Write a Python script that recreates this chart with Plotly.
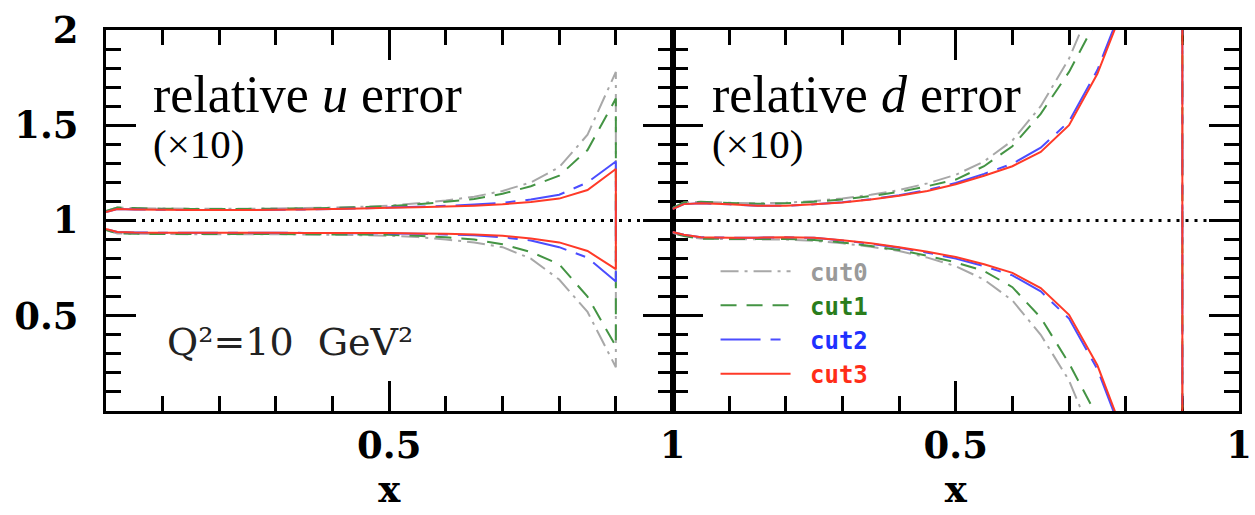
import plotly.graph_objects as go

# x grid shared by every error band (both panels)
X = [0.0, 0.02, 0.05, 0.10, 0.15, 0.20, 0.25, 0.30, 0.35, 0.40,
     0.45, 0.50, 0.55, 0.60, 0.65, 0.70, 0.75, 0.80, 0.85, 0.90]

# relative u error (x10): upper / lower edges of each band
u_hi_cut0 = [1.050, 1.068, 1.065, 1.063, 1.062, 1.062, 1.062, 1.063, 1.065, 1.068,
             1.072, 1.078, 1.090, 1.105, 1.125, 1.155, 1.200, 1.280, 1.450, 1.780]
u_lo_cut0 = [0.950, 0.932, 0.930, 0.929, 0.928, 0.928, 0.928, 0.928, 0.927, 0.925,
             0.923, 0.920, 0.913, 0.900, 0.885, 0.860, 0.800, 0.690, 0.520, 0.230]
u_hi_cut1 = [1.050, 1.068, 1.065, 1.062, 1.061, 1.061, 1.061, 1.062, 1.064, 1.066,
             1.070, 1.075, 1.085, 1.098, 1.113, 1.140, 1.180, 1.235, 1.370, 1.640]
u_lo_cut1 = [0.950, 0.932, 0.930, 0.929, 0.929, 0.929, 0.929, 0.929, 0.928, 0.927,
             0.926, 0.925, 0.920, 0.912, 0.900, 0.875, 0.835, 0.770, 0.600, 0.340]
u_hi_cut2 = [1.045, 1.060, 1.058, 1.056, 1.055, 1.055, 1.055, 1.056, 1.058, 1.061,
             1.064, 1.068, 1.072, 1.077, 1.084, 1.093, 1.110, 1.135, 1.200, 1.310]
u_lo_cut2 = [0.955, 0.940, 0.937, 0.936, 0.936, 0.936, 0.936, 0.936, 0.935, 0.934,
             0.933, 0.932, 0.930, 0.927, 0.922, 0.912, 0.895, 0.860, 0.805, 0.680]
u_hi_cut3 = [1.045, 1.060, 1.058, 1.056, 1.055, 1.055, 1.055, 1.056, 1.058, 1.060,
             1.063, 1.067, 1.070, 1.074, 1.078, 1.085, 1.097, 1.115, 1.160, 1.270]
u_lo_cut3 = [0.955, 0.940, 0.937, 0.936, 0.936, 0.936, 0.936, 0.936, 0.935, 0.935,
             0.934, 0.934, 0.932, 0.930, 0.927, 0.920, 0.906, 0.885, 0.840, 0.745]

# relative d error (x10): upper / lower edges of each band
d_hi_cut0 = [1.065, 1.095, 1.098, 1.093, 1.090, 1.093, 1.102, 1.116, 1.135, 1.160,
             1.195, 1.240, 1.310, 1.420, 1.600, 1.850, 2.200, 2.700, 3.500, 4.800]
d_lo_cut0 = [0.935, 0.918, 0.905, 0.902, 0.901, 0.900, 0.894, 0.880, 0.862, 0.840,
             0.805, 0.760, 0.690, 0.580, 0.400, 0.160, -0.200, -0.700, -1.500, -2.800]
d_hi_cut1 = [1.065, 1.095, 1.098, 1.092, 1.088, 1.090, 1.098, 1.110, 1.128, 1.150,
             1.180, 1.215, 1.285, 1.390, 1.560, 1.780, 2.060, 2.500, 3.300, 4.500]
d_lo_cut1 = [0.935, 0.918, 0.905, 0.903, 0.903, 0.903, 0.898, 0.885, 0.866, 0.845,
             0.815, 0.780, 0.735, 0.650, 0.490, 0.250, -0.030, -0.500, -1.300, -2.500]
d_hi_cut2 = [1.060, 1.086, 1.090, 1.085, 1.078, 1.078, 1.085, 1.096, 1.112, 1.133,
             1.160, 1.197, 1.245, 1.298, 1.382, 1.520, 1.790, 2.170, 2.920, 4.020]
d_lo_cut2 = [0.940, 0.925, 0.912, 0.910, 0.910, 0.912, 0.909, 0.895, 0.878, 0.857,
             0.831, 0.800, 0.760, 0.712, 0.628, 0.485, 0.220, -0.170, -0.920, -2.020]
d_hi_cut3 = [1.060, 1.086, 1.090, 1.085, 1.078, 1.078, 1.085, 1.095, 1.110, 1.130,
             1.155, 1.190, 1.235, 1.285, 1.360, 1.500, 1.770, 2.150, 2.900, 4.000]
d_lo_cut3 = [0.940, 0.925, 0.912, 0.910, 0.910, 0.912, 0.910, 0.896, 0.880, 0.860,
             0.836, 0.808, 0.770, 0.725, 0.645, 0.505, 0.240, -0.150, -0.900, -2.000]

CUTS = ["cut0", "cut1", "cut2", "cut3"]
U_BANDS = [(u_hi_cut0, u_lo_cut0), (u_hi_cut1, u_lo_cut1),
           (u_hi_cut2, u_lo_cut2), (u_hi_cut3, u_lo_cut3)]
D_BANDS = [(d_hi_cut0, d_lo_cut0), (d_hi_cut1, d_lo_cut1),
           (d_hi_cut2, d_lo_cut2), (d_hi_cut3, d_lo_cut3)]

Y_TICKS = [0.5, 1, 1.5, 2]
Y_TICK_TEXT = ["0.5", "1", "1.5", "2"]
X_TICKS = [0.5, 1]
X_TICK_TEXT = ["0.5", "1"]

LINE_COLORS = ["#a8a8a8", "#449444", "#4b4dff", "#ff3a28"]
TEXT_COLORS = ["#9a9a9a", "#2a7d1c", "#2030ff", "#ff2d18"]
DASHES = ["18px,6px,3px,6px", "16px,10px", "40px,10px,10px,10px", "solid"]

TICK_FONT = dict(family="DejaVu Serif", size=37, color="black", weight="bold")
TITLE_FONT = dict(family="Liberation Serif", size=52, color="black")
SUB_FONT = dict(family="Liberation Serif", size=41, color="black")

fig = go.Figure()

# each band is drawn as one outline: upper edge left->right, then lower edge back
for panel, (bands, xa, ya) in enumerate([(U_BANDS, "x", "y"), (D_BANDS, "x2", "y2")]):
    for i, (hi, lo) in enumerate(bands):
        fig.add_trace(go.Scatter(
            x=X + X[::-1],
            y=hi + lo[::-1],
            mode="lines",
            line=dict(color=LINE_COLORS[i], width=2, dash=DASHES[i], simplify=False),
            name=f"<span style='color:{TEXT_COLORS[i]}'>\u00a0{CUTS[i]}</span>",
            legendgroup=CUTS[i],
            showlegend=(panel == 1),
            xaxis=xa, yaxis=ya,
            hoverinfo="skip",
        ))

axis_common = dict(
    showline=True, linewidth=3, linecolor="black", mirror="ticks",
    ticks="inside", ticklen=30, tickwidth=3, tickcolor="black",
    showgrid=False, zeroline=False, layer="below traces",
    minor=dict(dtick=0.1, ticks="inside", ticklen=15, tickwidth=3,
               tickcolor="black", showgrid=False),
    tickfont=TICK_FONT,
)

fig.update_layout(
    width=1255, height=515,
    margin=dict(l=106, r=3, t=30, b=104),
    paper_bgcolor="white", plot_bgcolor="white",
    xaxis=dict(axis_common, domain=[0, 0.5], range=[0, 1], anchor="y",
               tickmode="array", tickvals=X_TICKS, ticktext=X_TICK_TEXT,
               title=dict(text="x", font=TICK_FONT, standoff=4)),
    yaxis=dict(axis_common, domain=[0, 1], range=[0, 2], anchor="x",
               tickmode="array", tickvals=Y_TICKS, ticktext=Y_TICK_TEXT,
               ticklabelstandoff=17),
    xaxis2=dict(axis_common, domain=[0.5, 1], range=[0, 1], anchor="y2",
                tickmode="array", tickvals=X_TICKS, ticktext=X_TICK_TEXT,
                title=dict(text="x", font=TICK_FONT, standoff=4)),
    yaxis2=dict(axis_common, domain=[0, 1], range=[0, 2], anchor="x2",
                tickmode="array", tickvals=Y_TICKS, showticklabels=False),
    showlegend=True,
    legend=dict(
        x=0.538, y=0.425, xanchor="left", yanchor="top",
        bgcolor="rgba(0,0,0,0)", borderwidth=0,
        font=dict(family="DejaVu Sans Mono", size=24, weight="bold"),
        itemwidth=70, tracegroupgap=6, traceorder="normal",
    ),
)

# unit reference line
for xa, ya in [("x", "y"), ("x2", "y2")]:
    fig.add_shape(type="line", xref=f"{xa} domain", yref=ya, x0=0, x1=1, y0=1, y1=1,
                  line=dict(color="black", width=3, dash="3px,6px"), layer="above")

annotations = [
    dict(text="relative <i>u</i> error", xref="x domain", yref="y domain",
         x=0.08, y=0.83, font=TITLE_FONT),
    dict(text="(×10)", xref="x domain", yref="y domain",
         x=0.08, y=0.70, font=SUB_FONT),
    dict(text="relative <i>d</i> error", xref="x2 domain", yref="y2 domain",
         x=0.066, y=0.83, font=TITLE_FONT),
    dict(text="(×10)", xref="x2 domain", yref="y2 domain",
         x=0.066, y=0.70, font=SUB_FONT),
    dict(text="Q²=10\u00a0\u00a0GeV²", xref="x domain", yref="y domain",
         x=0.105, y=0.18, font=dict(family="DejaVu Serif", size=38, color="#222")),
]
for a in annotations:
    fig.add_annotation(showarrow=False, xanchor="left", yanchor="middle", **a)

fig.write_html("out.html")
